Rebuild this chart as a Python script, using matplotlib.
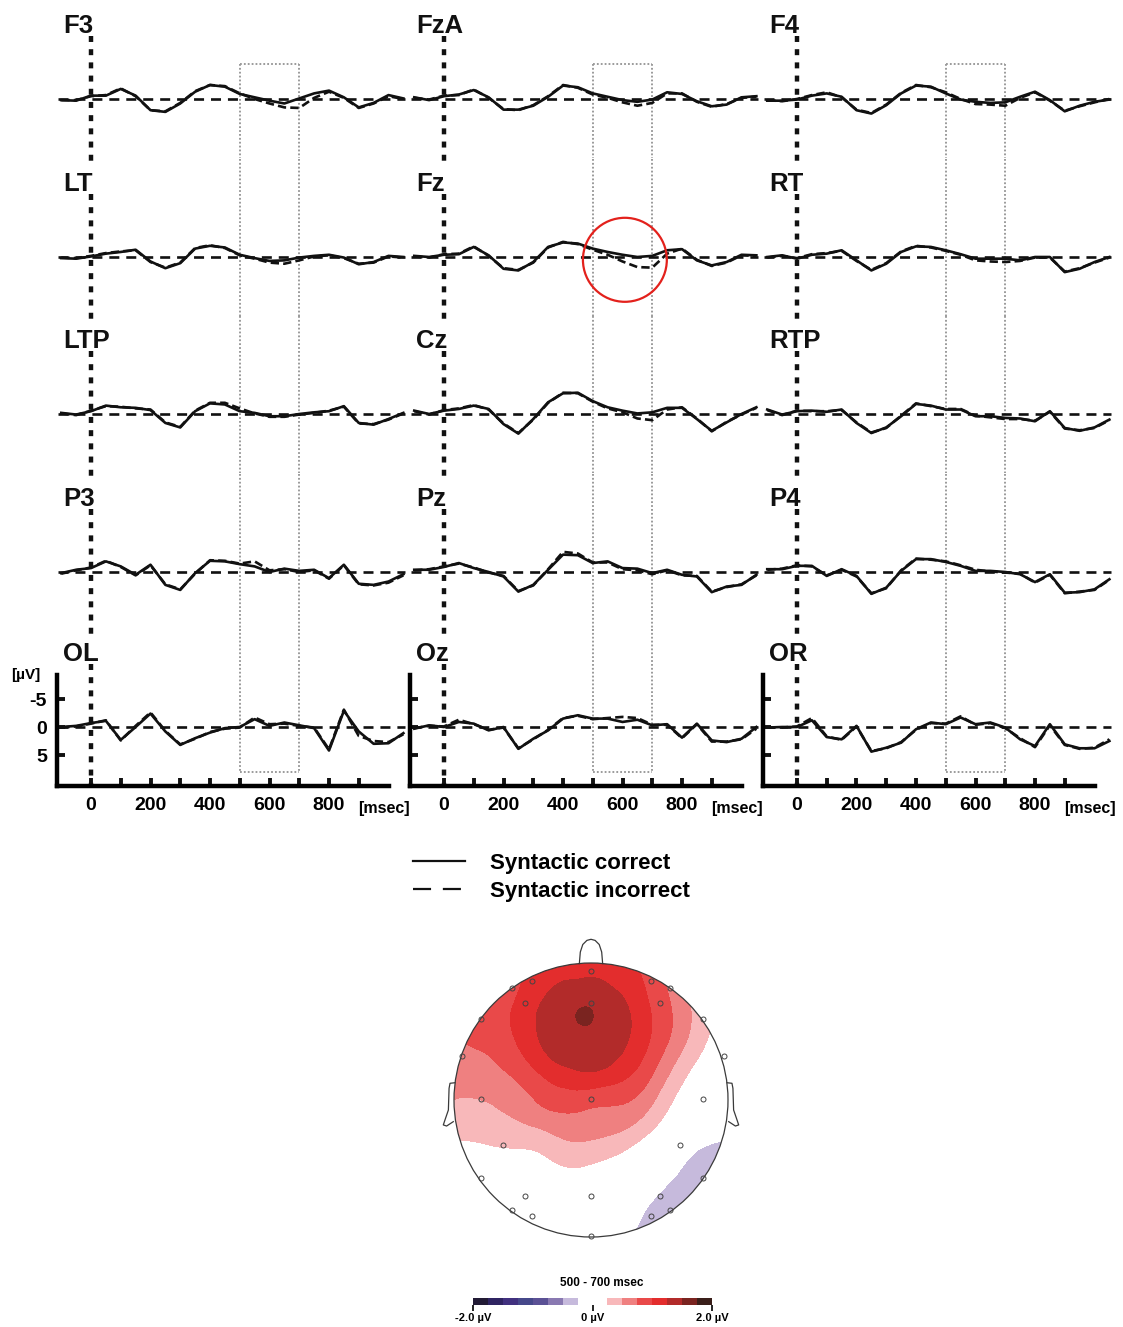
import numpy as np
import matplotlib
matplotlib.use("Agg")
import matplotlib.pyplot as plt
import matplotlib.tri as mtri
from matplotlib.patches import Circle, Ellipse
from matplotlib.lines import Line2D

plt.rcParams['font.family'] = ['Liberation Sans', 'DejaVu Sans']
plt.rcParams['lines.scale_dashes'] = False

# ---------------- data ----------------
times = [-100, -50, 0, 50, 100, 150, 200, 250, 300, 350, 400, 450,
         500, 550, 600, 650, 700, 750, 800, 850, 900, 950, 1000, 1050]

channel_grid = [['F3', 'FzA', 'F4'],
                ['LT', 'Fz', 'RT'],
                ['LTP', 'Cz', 'RTP'],
                ['P3', 'Pz', 'P4'],
                ['OL', 'Oz', 'OR']]

F3_correct = [0.2, 0.3, -0.6, -0.6, -1.8, -0.6, 2.0, 2.3, 0.8, -1.3, -2.5, -2.2, -0.9, -0.3, 0.3, 0.8, -0.1, -1.0, -1.5, -0.3, 1.5, 0.7, -0.7, -0.1]
F3_incorrect = [0.2, 0.2, -0.5, -0.7, -1.9, -0.5, 2.0, 2.2, 0.7, -1.4, -2.5, -2.3, -1.0, 0.0, 0.8, 1.5, 1.6, -0.2, -1.3, -0.2, 1.6, 0.8, -0.5, 0.0]
FzA_correct = [-0.3, 0.2, -0.5, -0.8, -1.6, -0.3, 1.9, 1.9, 1.2, -0.4, -2.4, -2.1, -1.0, -0.4, 0.2, 0.5, 0.1, -1.2, -0.9, 0.4, 1.3, 1.0, -0.3, -0.5]
FzA_incorrect = [-0.2, 0.1, -0.6, -0.7, -1.7, -0.2, 1.8, 2.0, 1.1, -0.5, -2.5, -2.0, -0.8, -0.2, 0.6, 1.2, 0.7, -1.0, -1.0, 0.5, 1.4, 0.9, -0.2, -0.4]
F4_correct = [0.3, 0.3, 0.1, -0.6, -1.0, -0.4, 2.0, 2.6, 1.1, -1.0, -2.4, -2.2, -1.0, 0.1, 0.5, 0.7, 0.6, -0.4, -1.3, 0.2, 2.2, 1.2, 0.5, 0.1]
F4_incorrect = [0.2, 0.4, 0.0, -0.7, -1.2, -0.3, 1.9, 2.5, 1.0, -1.1, -2.5, -2.1, -1.2, 0.0, 0.9, 1.0, 1.2, -0.2, -1.2, 0.3, 2.1, 1.3, 0.6, 0.0]

LT_correct = [0.2, 0.3, -0.1, -0.6, -0.9, -1.3, 0.8, 2.0, 1.1, -1.5, -2.0, -1.7, -0.4, 0.2, 0.7, 0.6, 0.1, -0.2, -0.4, 0.1, 1.3, 0.9, -0.2, 0.0]
LT_incorrect = [0.1, 0.2, -0.2, -0.7, -1.0, -1.2, 0.9, 1.9, 1.0, -1.6, -2.1, -1.6, -0.3, 0.3, 1.0, 1.2, 0.6, -0.1, -0.3, 0.2, 1.2, 1.0, -0.1, 0.1]
Fz_correct = [-0.2, 0.0, -0.4, -0.5, -1.8, -0.3, 2.1, 2.4, 0.9, -1.8, -2.6, -2.4, -1.5, -0.9, -0.4, 0.0, -0.2, -1.2, -1.4, 0.6, 1.5, 0.9, -0.4, -0.3]
Fz_incorrect = [-0.1, 0.1, -0.5, -0.6, -1.9, -0.2, 2.0, 2.3, 1.0, -1.7, -2.7, -2.3, -1.3, -0.4, 0.8, 1.8, 1.9, -0.6, -1.5, 0.5, 1.6, 1.0, -0.3, -0.2]
RT_correct = [0.0, -0.3, 0.3, -0.4, -0.6, -1.2, 0.6, 2.4, 1.2, -0.9, -1.9, -1.8, -1.2, -0.5, 0.3, 0.3, 0.3, 0.6, 0.0, 0.0, 2.7, 2.1, 0.9, 0.0]
RT_incorrect = [0.1, -0.2, 0.2, -0.5, -0.7, -1.1, 0.7, 2.3, 1.1, -1.0, -2.0, -1.7, -1.1, -0.4, 0.6, 0.8, 0.9, 0.7, 0.1, 0.1, 2.6, 2.0, 1.0, 0.1]

LTP_correct = [-0.2, 0.1, -0.5, -1.5, -1.2, -1.1, -0.7, 1.6, 2.4, -0.5, -1.9, -1.7, -0.5, -0.2, 0.4, 0.4, 0.0, -0.3, -0.5, -1.4, 1.6, 1.9, 0.9, -0.2]
LTP_incorrect = [-0.1, 0.2, -0.6, -1.4, -1.3, -1.0, -0.8, 1.5, 2.3, -0.6, -2.0, -2.0, -1.0, -0.1, 0.5, 0.5, 0.1, -0.2, -0.6, -1.3, 1.7, 1.8, 1.0, -0.1]
Cz_correct = [-0.6, 0.0, -0.6, -0.9, -1.5, -0.9, 1.8, 3.5, 0.9, -2.1, -3.7, -3.8, -2.3, -1.2, -0.6, -0.1, -0.3, -1.1, -1.1, 0.9, 3.0, 1.5, 0.0, -1.2]
Cz_incorrect = [-0.5, 0.1, -0.7, -1.0, -1.6, -0.8, 1.7, 3.4, 1.0, -2.0, -3.8, -3.7, -2.2, -1.0, -0.3, 0.8, 1.1, -0.8, -1.2, 0.8, 3.1, 1.4, 0.1, -1.1]
RTP_correct = [-0.8, 0.1, -0.5, -0.6, -0.4, -0.8, 1.6, 3.4, 2.4, 0.4, -1.8, -1.5, -0.8, -0.8, 0.4, 0.4, 0.7, 0.8, 1.3, -0.5, 2.5, 3.0, 2.4, 1.0]
RTP_incorrect = [-0.7, 0.2, -0.6, -0.5, -0.5, -0.7, 1.5, 3.3, 2.5, 0.3, -1.9, -1.4, -0.9, -0.9, 0.3, 0.6, 0.9, 0.9, 1.2, -0.4, 2.6, 2.9, 2.5, 1.1]

P3_correct = [0.2, -0.4, -0.7, -1.9, -1.0, 0.5, -1.3, 2.3, 3.2, 0.2, -2.0, -1.9, -1.4, -1.0, 0.0, -0.6, -0.2, -0.4, 1.1, -1.3, 2.1, 2.3, 1.7, 0.4]
P3_incorrect = [0.3, -0.3, -0.8, -2.0, -0.9, 0.6, -1.2, 2.2, 3.1, 0.3, -2.1, -2.0, -1.5, -1.9, -0.3, -0.5, 0.0, -0.3, 1.2, -1.2, 2.2, 2.4, 1.9, 0.6]
Pz_correct = [-0.4, -0.4, -0.9, -1.6, -0.7, 0.0, 0.8, 3.5, 2.3, -0.4, -3.1, -3.0, -1.6, -1.9, -0.7, -0.6, 0.2, -0.4, 0.5, 0.8, 3.6, 2.6, 2.3, 0.5]
Pz_incorrect = [-0.3, -0.5, -1.0, -1.5, -0.8, 0.1, 0.7, 3.4, 2.4, -0.5, -3.6, -3.3, -1.7, -1.7, -0.5, -0.3, 0.4, -0.3, 0.6, 0.7, 3.5, 2.7, 2.2, 0.6]
P4_correct = [-0.5, -0.5, -1.1, -1.1, 0.7, -0.5, 0.7, 3.9, 2.8, -0.2, -2.3, -2.3, -1.8, -1.1, -0.2, -0.2, 0.0, 0.4, 1.8, 0.4, 3.7, 3.6, 3.1, 1.3]
P4_incorrect = [-0.4, -0.6, -1.2, -1.0, 0.6, -0.4, 0.8, 3.8, 2.9, -0.3, -2.4, -2.2, -1.9, -1.2, -0.4, -0.1, 0.1, 0.3, 1.9, 0.5, 3.8, 3.5, 3.2, 1.4]

OL_correct = [0.0, -0.2, -0.7, -1.1, 2.3, 0.0, -2.4, 0.8, 3.2, 2.0, 1.0, 0.2, 0.0, -1.4, -0.2, -0.8, -0.3, 0.2, 4.2, -2.9, 0.8, 3.0, 2.9, 1.1]
OL_incorrect = [0.1, -0.1, -0.6, -1.2, 2.4, -0.2, -2.6, 0.7, 3.1, 2.1, 0.9, 0.3, 0.1, -1.7, -0.5, -0.6, -0.2, 0.1, 4.0, -3.1, 1.6, 2.5, 2.7, 1.3]
Oz_correct = [0.3, -0.3, 0.0, -0.9, -0.6, 0.6, 0.0, 3.9, 2.1, 0.6, -1.5, -2.1, -1.5, -1.5, -0.9, -1.3, -0.3, -0.5, 1.9, -0.6, 2.4, 2.7, 2.1, 0.0]
Oz_incorrect = [0.2, -0.2, -0.1, -1.3, -0.5, 0.5, 0.1, 3.8, 2.2, 0.5, -1.6, -2.0, -1.4, -1.6, -1.8, -1.6, -0.4, -0.4, 2.0, -0.5, 2.6, 2.6, 2.2, 0.3]
OR_correct = [0.1, 0.0, 0.0, -1.2, 1.8, 2.2, -0.2, 4.4, 3.7, 2.8, 0.4, -0.8, -0.5, -1.7, -0.5, -0.8, 0.1, 2.2, 3.4, -0.5, 3.1, 3.8, 3.8, 2.5]
OR_incorrect = [0.1, 0.1, -0.1, -1.6, 1.7, 2.3, -0.1, 4.3, 3.8, 2.7, 0.5, -0.7, -0.6, -1.9, -0.4, -0.7, 0.2, 2.0, 3.6, -0.3, 3.2, 3.9, 3.7, 2.2]

correct = {'F3': F3_correct, 'FzA': FzA_correct, 'F4': F4_correct,
           'LT': LT_correct, 'Fz': Fz_correct, 'RT': RT_correct,
           'LTP': LTP_correct, 'Cz': Cz_correct, 'RTP': RTP_correct,
           'P3': P3_correct, 'Pz': Pz_correct, 'P4': P4_correct,
           'OL': OL_correct, 'Oz': Oz_correct, 'OR': OR_correct}
incorrect = {'F3': F3_incorrect, 'FzA': FzA_incorrect, 'F4': F4_incorrect,
             'LT': LT_incorrect, 'Fz': Fz_incorrect, 'RT': RT_incorrect,
             'LTP': LTP_incorrect, 'Cz': Cz_incorrect, 'RTP': RTP_incorrect,
             'P3': P3_incorrect, 'Pz': Pz_incorrect, 'P4': P4_incorrect,
             'OL': OL_incorrect, 'Oz': Oz_incorrect, 'OR': OR_incorrect}

window = [500, 700]
x_ticklabels = ['0', '200', '400', '600', '800']
y_ticklabels = ['-5', '0', '5']
legend_labels = ['Syntactic correct', 'Syntactic incorrect']

# topographic map (500-700 ms): values (microvolts) read on a head-unit grid
topo_x = [-1.0, -0.8, -0.6, -0.4, -0.2, 0.0, 0.2, 0.4, 0.6, 0.8, 1.0]
topo_y = [1.0, 0.8, 0.6, 0.4, 0.2, 0.0, -0.2, -0.4, -0.6, -0.8, -1.0]
topo_values = [
    [0.75, 0.85, 0.95, 1.02, 1.08, 1.10, 1.06, 0.92, 0.62, 0.40, 0.20],
    [0.78, 0.82, 0.92, 1.15, 1.32, 1.38, 1.24, 1.00, 0.68, 0.38, 0.12],
    [0.85, 0.90, 0.99, 1.25, 1.42, 1.52, 1.36, 1.07, 0.74, 0.38, 0.10],
    [0.72, 0.78, 0.92, 1.20, 1.37, 1.38, 1.31, 1.03, 0.66, 0.30, 0.02],
    [0.60, 0.66, 0.76, 0.98, 1.17, 1.24, 1.12, 0.86, 0.45, 0.14, -0.05],
    [0.50, 0.50, 0.58, 0.76, 0.88, 0.84, 0.80, 0.62, 0.25, 0.05, -0.10],
    [0.36, 0.38, 0.42, 0.50, 0.60, 0.60, 0.55, 0.35, 0.08, -0.06, -0.20],
    [0.15, 0.16, 0.20, 0.22, 0.36, 0.35, 0.24, 0.05, -0.10, -0.30, -0.30],
    [0.10, 0.10, 0.10, 0.10, 0.12, 0.10, 0.00, -0.12, -0.27, -0.35, -0.30],
    [0.05, 0.05, 0.05, 0.05, 0.03, 0.00, -0.08, -0.25, -0.33, -0.30, -0.30],
    [0.05, 0.05, 0.05, 0.00, 0.00, -0.05, -0.22, -0.30, -0.30, -0.30, -0.30],
]
# extra readings around the frontal maximum
peak_x = [-0.04, 0.06, 0.03, -0.04, -0.11, -0.14, -0.11, -0.04, 0.03,
          0.25, 0.21, 0.10, -0.05, -0.31, -0.35, -0.31, -0.20, -0.05, 0.10]
peak_y = [0.61, 0.61, 0.68, 0.71, 0.68, 0.61, 0.54, 0.51, 0.54,
          0.55, 0.70, 0.81, 0.85, 0.70, 0.55, 0.40, 0.29, 0.25, 0.29]
peak_v = [1.57, 1.46, 1.46, 1.46, 1.46, 1.46, 1.46, 1.46, 1.46,
          1.31, 1.31, 1.31, 1.31, 1.31, 1.31, 1.31, 1.31, 1.31, 1.31]
electrode_x = [0.0, -0.43, 0.44, -0.58, 0.58, -0.48, 0.0, 0.50, -0.80, 0.82, -0.94, 0.97,
               -0.80, 0.0, 0.82, -0.64, 0.65, -0.80, 0.82, -0.48, 0.0, 0.50, -0.58, 0.58,
               -0.43, 0.44, 0.0]
electrode_y = [0.94, 0.87, 0.87, 0.815, 0.815, 0.71, 0.71, 0.71, 0.59, 0.59, 0.32, 0.32,
               0.01, 0.01, 0.01, -0.33, -0.33, -0.57, -0.57, -0.70, -0.70, -0.70, -0.80, -0.80,
               -0.85, -0.85, -0.99]
topo_levels = [-2.0, -1.75, -1.5, -1.25, -1.0, -0.75, -0.5, -0.25,
               0.25, 0.5, 0.75, 1.0, 1.25, 1.5, 1.75, 2.0]
topo_colors = ['#221B35', '#2F2462', '#41317F', '#46488A', '#5B5195', '#8979B1', '#C6BADC',
               '#FFFFFF',
               '#F8B8BA', '#EF8080', '#E94949', '#E32D2D', '#B22B2A', '#7A2420', '#3A1F1A']
cbar_ticks = [-2.0, 0.0, 2.0]
cbar_ticklabels = ['-2.0 \u00b5V', '0 \u00b5V', '2.0 \u00b5V']
topo_title = '500 - 700 msec'

# ---------------- layout ----------------
W, H = 1123, 1327
fig = plt.figure(figsize=(W / 100, H / 100), dpi=100)


def px_axes(left, top, width, height):
    return fig.add_axes([left / W, 1 - (top + height) / H, width / W, height / H])


PX_MS, PX_UV = 0.2975, 5.6
XMIN, XMAX = -115, 1075
YTOP, YBOT = -17.5, 10.5
zero_x = [91, 444, 797]
base_y = [99, 257, 414, 572, 727]
INK = '#111111'
BOX = '#9b9b9b'

panel_axes = {}
for r, row in enumerate(channel_grid):
    for c, name in enumerate(row):
        ax = px_axes(zero_x[c] + XMIN * PX_MS, base_y[r] + YTOP * PX_UV,
                     (XMAX - XMIN) * PX_MS, (YBOT - YTOP) * PX_UV)
        panel_axes[name] = ax
        ax.set_xlim(XMIN, XMAX)
        ax.set_ylim(YBOT, YTOP)
        ax.patch.set_alpha(0)
        last = (r == len(channel_grid) - 1)

        # 0-ms dotted line
        ax.plot([0, 0], [-11.2, YBOT if last else YBOT + 1.0], color=INK, lw=3.2,
                ls=(0, (4.3, 5.2)), dash_capstyle='butt', clip_on=False, zorder=2)
        # analysis window box (one tall box through the column)
        y0 = -6.3 if r == 0 else YTOP
        y1 = 8.0 if last else YBOT
        for xv in window:
            ax.plot([xv, xv], [y0, y1], color=BOX, lw=1.4, ls=(0, (1.3, 1.5)),
                    clip_on=False, zorder=1)
        if r == 0:
            ax.plot(window, [y0, y0], color=BOX, lw=1.4, ls=(0, (1.3, 1.5)), zorder=1)
        if last:
            ax.plot(window, [y1, y1], color=BOX, lw=1.4, ls=(0, (1.3, 1.5)), zorder=1)
        # baseline
        ax.plot([-112, 1055], [0, 0], color=INK, lw=1.9, ls=(0, (7.2, 5.0)), zorder=2)
        # traces
        ax.plot(times, correct[name], color=INK, lw=1.9, zorder=4)
        ax.plot(times, incorrect[name], color=INK, lw=1.9, ls=(0, (6, 3)), zorder=4)
        # channel label
        ax.text(-94, -11.7, name, fontsize=18.5, fontweight='bold', ha='left',
                va='baseline', color=INK, clip_on=False, zorder=5)

        for s in ['top', 'right']:
            ax.spines[s].set_visible(False)
        if not last:
            ax.spines['left'].set_visible(False)
            ax.spines['bottom'].set_visible(False)
            ax.set_xticks([])
            ax.set_yticks([])
        else:
            ax.spines['left'].set_linewidth(3.2)
            ax.spines['bottom'].set_linewidth(3.2)
            ax.spines['left'].set_bounds(-9.2, YBOT)
            ax.spines['bottom'].set_bounds(XMIN + 2, 1000)
            ax.set_xticks([0, 200, 400, 600, 800])
            ax.set_xticks([100, 300, 500, 700, 900], minor=True)
            ax.set_xticklabels(x_ticklabels, fontsize=14, fontweight='bold')
            ax.tick_params(axis='x', which='both', direction='in', length=6,
                           width=2.8, pad=8, color=INK)
            ax.set_yticks([-5, 0, 5])
            if c == 0:
                ax.set_yticklabels(y_ticklabels, fontsize=14, fontweight='bold')
                ax.text(-218, -9.3, '[\u00b5V]', fontsize=11, fontweight='bold',
                        ha='center', va='center', clip_on=False)
            else:
                ax.set_yticklabels([])
            ax.tick_params(axis='y', direction='in', length=6, width=2.8, pad=7,
                           color=INK)
            ax.text(985, 14.6, '[msec]', fontsize=11.5, fontweight='bold',
                    ha='center', va='center', clip_on=False)

# red highlight circle on Fz
panel_axes['Fz'].add_patch(Ellipse((608, 0.5), 282, 15.0, fill=False,
                                   ec='#E3211C', lw=1.6, clip_on=False, zorder=6))

# legend
handles = [Line2D([], [], color=INK, lw=1.6),
           Line2D([], [], color=INK, lw=1.6, ls=(0, (13, 8.5)))]
fig.legend(handles, legend_labels, loc='upper left',
           bbox_to_anchor=(413 / W, 1 - 853 / H), frameon=False,
           prop={'weight': 'bold', 'size': 16}, handlelength=2.35,
           handletextpad=1.1, labelspacing=0.32, borderpad=0, borderaxespad=0)

# ---------------- topographic map ----------------
HC_X, HC_Y, HR = 591, 1100, 137
LIM = 1.2
tax = px_axes(HC_X - LIM * HR, HC_Y - LIM * HR, 2 * LIM * HR, 2 * LIM * HR)
tax.set_xlim(-LIM, LIM)
tax.set_ylim(-LIM, LIM)
tax.set_aspect('equal')
tax.axis('off')

GX, GY = np.meshgrid(np.array(topo_x), np.array(topo_y))
pts_x = np.concatenate([GX.ravel(), np.array(peak_x)])
pts_y = np.concatenate([GY.ravel(), np.array(peak_y)])
pts_v = np.concatenate([np.array(topo_values).ravel(), np.array(peak_v)])
tri = mtri.Triangulation(pts_x, pts_y)
interp = mtri.CubicTriInterpolator(tri, pts_v, kind='min_E')
refiner = mtri.UniformTriRefiner(tri)
tri_f, z_f = refiner.refine_field(pts_v, triinterpolator=interp, subdiv=4)
cf = tax.tricontourf(tri_f, z_f, levels=topo_levels, colors=topo_colors)
clip = Circle((0, 0), 1.0, transform=tax.transData)
cf.set_clip_path(clip)

HEAD = '#3a3a3a'
tax.add_patch(Circle((0, 0), 1.0, fill=False, ec=HEAD, lw=0.9, zorder=3))
nose_x = [-0.085, -0.078, -0.06, -0.03, 0.0, 0.03, 0.06, 0.078, 0.085]
nose_y = [0.996, 1.08, 1.135, 1.165, 1.173, 1.165, 1.135, 1.08, 0.996]
tax.plot(nose_x, nose_y, color=HEAD, lw=0.9, zorder=3)
ear_x = [-0.993, -1.029, -1.036, -1.041, -1.066, -1.078, -1.054, -1.005]
ear_y = [0.126, 0.122, 0.085, -0.073, -0.146, -0.182, -0.19, -0.158]
tax.plot(ear_x, ear_y, color=HEAD, lw=0.9, zorder=3)
tax.plot([-v for v in ear_x], ear_y, color=HEAD, lw=0.9, zorder=3)
tax.plot(electrode_x, electrode_y, ls='none', marker='o', ms=3.6, mfc='none',
         mec='#444444', mew=0.7, zorder=4)

# colorbar
cax = px_axes(473, 1298, 239, 7)
cbar = fig.colorbar(cf, cax=cax, orientation='horizontal', ticks=cbar_ticks,
                    spacing='proportional')
cbar.outline.set_visible(False)
cbar.ax.set_xticklabels(cbar_ticklabels, fontsize=8, fontweight='bold')
cbar.ax.tick_params(axis='x', length=4, width=1.2, color='black', pad=1.5)
fig.text(602 / W, 1 - 1283 / H, topo_title, ha='center', va='center',
         fontsize=8.5, fontweight='bold')

fig.savefig('out.png', dpi=100)
